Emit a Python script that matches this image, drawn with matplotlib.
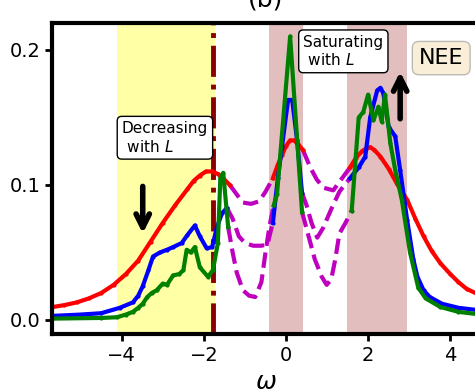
import numpy as np
import matplotlib
matplotlib.use("Agg")
import matplotlib.pyplot as plt

# red curve (three pieces)
w_red1 = [-5.7, -5.4, -5.1, -4.8, -4.5, -4.2, -3.9, -3.6, -3.3, -3.0, -2.7, -2.4, -2.25, -2.1, -1.95, -1.8, -1.65, -1.5, -1.37]
y_red1 = [0.0095, 0.011, 0.013, 0.016, 0.020, 0.026, 0.034, 0.044, 0.058, 0.072, 0.085, 0.097, 0.103, 0.107, 0.110, 0.110, 0.108, 0.104, 0.100]
w_red2 = [-0.32, -0.2, -0.1, 0.0, 0.1, 0.2, 0.3, 0.41]
y_red2 = [0.105, 0.115, 0.122, 0.129, 0.133, 0.133, 0.130, 0.126]
w_red3 = [1.56, 1.7, 1.85, 1.95, 2.05, 2.15, 2.3, 2.5, 2.7, 2.95, 3.15, 3.35, 3.55, 3.76, 4.0, 4.2, 4.4, 4.75]
y_red3 = [0.113, 0.120, 0.125, 0.127, 0.128, 0.126, 0.121, 0.112, 0.101, 0.089, 0.075, 0.062, 0.051, 0.042, 0.034, 0.028, 0.023, 0.018]

# blue curve
w_blue1 = [-5.7, -5.0, -4.5, -4.05, -3.73, -3.6, -3.49, -3.35, -3.24, -3.07, -2.9, -2.75, -2.54, -2.4, -2.22, -2.1, -1.93, -1.8, -1.68, -1.56, -1.44]
y_blue1 = [0.003, 0.004, 0.005, 0.009, 0.013, 0.018, 0.025, 0.037, 0.047, 0.050, 0.052, 0.054, 0.057, 0.063, 0.070, 0.062, 0.053, 0.054, 0.069, 0.079, 0.083]
w_blue2 = [-0.32, -0.2, -0.1, 0.05, 0.15, 0.27, 0.39]
y_blue2 = [0.072, 0.105, 0.128, 0.163, 0.163, 0.133, 0.094]
w_blue3 = [1.56, 1.77, 1.93, 2.05, 2.22, 2.3, 2.37, 2.5, 2.66, 2.78, 2.95, 3.1, 3.2, 3.35, 3.5, 3.8, 4.2, 4.75]
y_blue3 = [0.105, 0.113, 0.121, 0.150, 0.170, 0.172, 0.168, 0.143, 0.136, 0.111, 0.074, 0.045, 0.032, 0.022, 0.017, 0.012, 0.009, 0.007]

# green curve
w_green1 = [-5.7, -4.5, -4.12, -3.9, -3.73, -3.6, -3.49, -3.38, -3.27, -3.15, -3.0, -2.9, -2.75, -2.6, -2.5, -2.42, -2.32, -2.22, -2.1, -1.9, -1.78, -1.66, -1.6, -1.53, -1.41]
y_green1 = [0.001, 0.0015, 0.002, 0.004, 0.006, 0.009, 0.012, 0.017, 0.020, 0.022, 0.027, 0.026, 0.033, 0.034, 0.037, 0.052, 0.050, 0.054, 0.039, 0.032, 0.037, 0.057, 0.105, 0.109, 0.069]
w_green2 = [-0.3, -0.22, 0.1, 0.39]
y_green2 = [0.085, 0.093, 0.210, 0.080]
w_green3 = [1.6, 1.77, 1.88, 2.0, 2.13, 2.25, 2.33, 2.41, 2.54, 2.66, 2.82, 3.02, 3.22, 3.4, 3.76, 4.2, 4.75]
y_green3 = [0.081, 0.150, 0.154, 0.167, 0.148, 0.158, 0.147, 0.167, 0.131, 0.111, 0.089, 0.050, 0.024, 0.016, 0.0096, 0.006, 0.004]

# magenta dashed pieces in the gaps
w_gap1_up = [-1.37, -1.2, -1.05, -0.85, -0.65, -0.5, -0.32]
y_gap1_up = [0.100, 0.093, 0.087, 0.086, 0.088, 0.095, 0.105]
w_gap1_mid = [-1.44, -1.3, -1.15, -1.0, -0.8, -0.6, -0.45, -0.38, -0.32]
y_gap1_mid = [0.083, 0.075, 0.062, 0.057, 0.055, 0.055, 0.056, 0.065, 0.072]
w_gap1_low = [-1.41, -1.3, -1.2, -1.05, -0.9, -0.75, -0.6, -0.5, -0.4, -0.3]
y_gap1_low = [0.069, 0.050, 0.035, 0.022, 0.018, 0.017, 0.028, 0.050, 0.070, 0.085]
w_gap2_up = [0.41, 0.59, 0.75, 0.91, 1.15, 1.39, 1.56]
y_gap2_up = [0.126, 0.113, 0.104, 0.098, 0.096, 0.106, 0.113]
w_gap2_mid = [0.39, 0.5, 0.62, 0.76, 0.9, 1.1, 1.3, 1.45, 1.56]
y_gap2_mid = [0.094, 0.085, 0.072, 0.061, 0.068, 0.082, 0.095, 0.101, 0.105]
w_gap2_low = [0.39, 0.55, 0.7, 0.87, 0.99, 1.1, 1.2, 1.3, 1.45, 1.6]
y_gap2_low = [0.080, 0.062, 0.045, 0.032, 0.026, 0.030, 0.045, 0.064, 0.072, 0.081]

fig = plt.figure(figsize=(4.75, 3.9), dpi=100)
ax = fig.add_axes([52/475, 1-334/390, (479-52)/475, (334-23)/390])

ax.axvspan(-4.12, -1.73, color='yellow', alpha=0.35, lw=0)
ax.axvspan(-0.41, 0.41, color='brown', alpha=0.3, lw=0)
ax.axvspan(1.49, 2.95, color='brown', alpha=0.3, lw=0)
ax.axvline(-1.78, color='darkred', ls='-.', lw=3.5)

for w, y in [(w_gap1_up, y_gap1_up), (w_gap1_mid, y_gap1_mid), (w_gap1_low, y_gap1_low),
             (w_gap2_up, y_gap2_up), (w_gap2_mid, y_gap2_mid), (w_gap2_low, y_gap2_low)]:
    ax.plot(w, y, 'm--', lw=3)

for w, y in [(w_red1, y_red1), (w_red2, y_red2), (w_red3, y_red3)]:
    ax.plot(w, y, 'r.-', lw=3, ms=4)
for w, y in [(w_blue1, y_blue1), (w_blue2, y_blue2), (w_blue3, y_blue3)]:
    ax.plot(w, y, 'b.-', lw=3, ms=4)
for w, y in [(w_green1, y_green1), (w_green2, y_green2), (w_green3, y_green3)]:
    ax.plot(w, y, 'g.-', lw=3, ms=4)

ax.text(-4.0, 0.135, "Decreasing\n with $L$", fontsize=11, va='center', ha='left',
        bbox=dict(boxstyle='round', fc='white', ec='black'))
ax.text(0.42, 0.199, "Saturating\n with $L$", fontsize=11, va='center', ha='left',
        bbox=dict(boxstyle='round', fc='white', ec='black'))
ax.text(3.78, 0.194, "NEE", fontsize=16, va='center', ha='center',
        bbox=dict(boxstyle='round', fc='wheat', ec='gray', alpha=0.5))

ax.annotate('', xy=(-3.49, 0.062), xytext=(-3.49, 0.101),
            arrowprops=dict(arrowstyle='->', lw=4, color='k', mutation_scale=24))
ax.annotate('', xy=(2.78, 0.186), xytext=(2.78, 0.147),
            arrowprops=dict(arrowstyle='->', lw=4, color='k', mutation_scale=24))

ax.set_xlim(-5.7, 4.7)
ax.set_ylim(-0.0104, 0.22)
ax.set_xticks([-4, -2, 0, 2, 4])
ax.set_yticks([0.0, 0.1, 0.2])
ax.tick_params(labelsize=14, width=2, length=5)
for s in ax.spines.values():
    s.set_linewidth(3)
ax.set_xlabel(r'$\omega$', fontsize=18)
ax.set_title('(b)', fontsize=18, pad=12)

fig.savefig('out.png', dpi=100)
